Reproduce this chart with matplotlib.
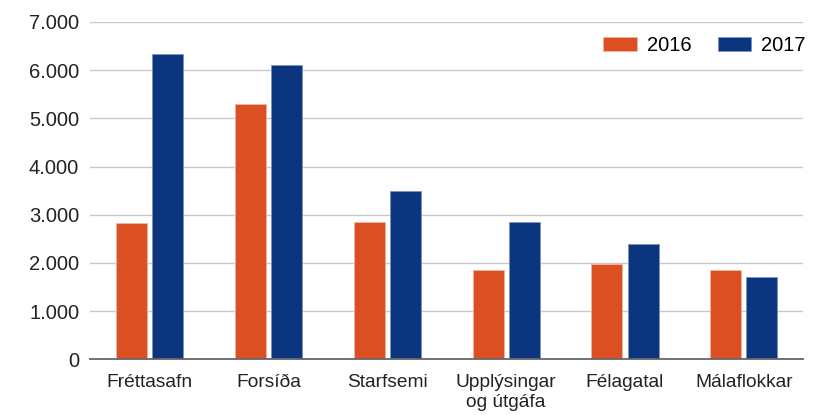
import matplotlib
matplotlib.use('Agg')
import matplotlib.pyplot as plt
import matplotlib.ticker as mticker
import numpy as np

# ── Data ───────────────────────────────────────────────────
categories = ['Fréttasafn', 'Forsíða', 'Starfsemi', 'Upplýsingar\nog útgáfa',
              'Félagatal', 'Málaflokkar']
values_2016 = [2830, 5295, 2850, 1860, 1980, 1860]
values_2017 = [6330, 6115, 3490, 2850, 2400, 1715]
series_names = ['2016', '2017']
yticks = [0, 1000, 2000, 3000, 4000, 5000, 6000, 7000]

ORANGE = '#DC4F22'
BLUE = '#0B357F'
GRID = '#C8C8C8'

plt.rcParams['font.family'] = ['Liberation Sans', 'DejaVu Sans']

fig = plt.figure(figsize=(8.13, 4.15), dpi=100)
ax = fig.add_axes([0.111, 0.1345, 0.877, 0.8125])

x = np.arange(len(categories))
w = 0.26
off = 0.152
ax.bar(x - off, values_2016, width=w, color=ORANGE, edgecolor='#F0B8A6',
       linewidth=0.5, label=series_names[0], zorder=3)
ax.bar(x + off, values_2017, width=w, color=BLUE, edgecolor='#7C93BE',
       linewidth=0.5, label=series_names[1], zorder=3)

ax.set_xlim(-0.5, len(categories) - 0.5)
ax.set_ylim(0, 7000)
ax.set_yticks(yticks)
ax.yaxis.set_major_formatter(mticker.FuncFormatter(
    lambda v, p: f'{v:,.0f}'.replace(',', '.')))
ax.set_xticks(x)
ax.set_xticklabels(categories, ha='center', linespacing=1.2)

ax.tick_params(axis='y', length=0, pad=8, labelsize=14.5, labelcolor='#222222')
ax.tick_params(axis='x', length=0, pad=11, labelsize=13.8, labelcolor='#222222')

for s in ['top', 'right', 'left']:
    ax.spines[s].set_visible(False)
ax.spines['bottom'].set_color('#666666')
ax.spines['bottom'].set_linewidth(1.3)
ax.spines['bottom'].set_zorder(4)

ax.grid(axis='y', color=GRID, linewidth=1.0, zorder=0)
ax.set_axisbelow(True)

ax.legend(loc='center right', bbox_to_anchor=(1.003, 0.93), ncol=2, frameon=False,
          fontsize=14.5, handlelength=1.65, handleheight=0.75, handletextpad=0.5,
          columnspacing=1.3, borderaxespad=0.0, borderpad=0.0)

fig.savefig('out.png', dpi=100, facecolor='white')
